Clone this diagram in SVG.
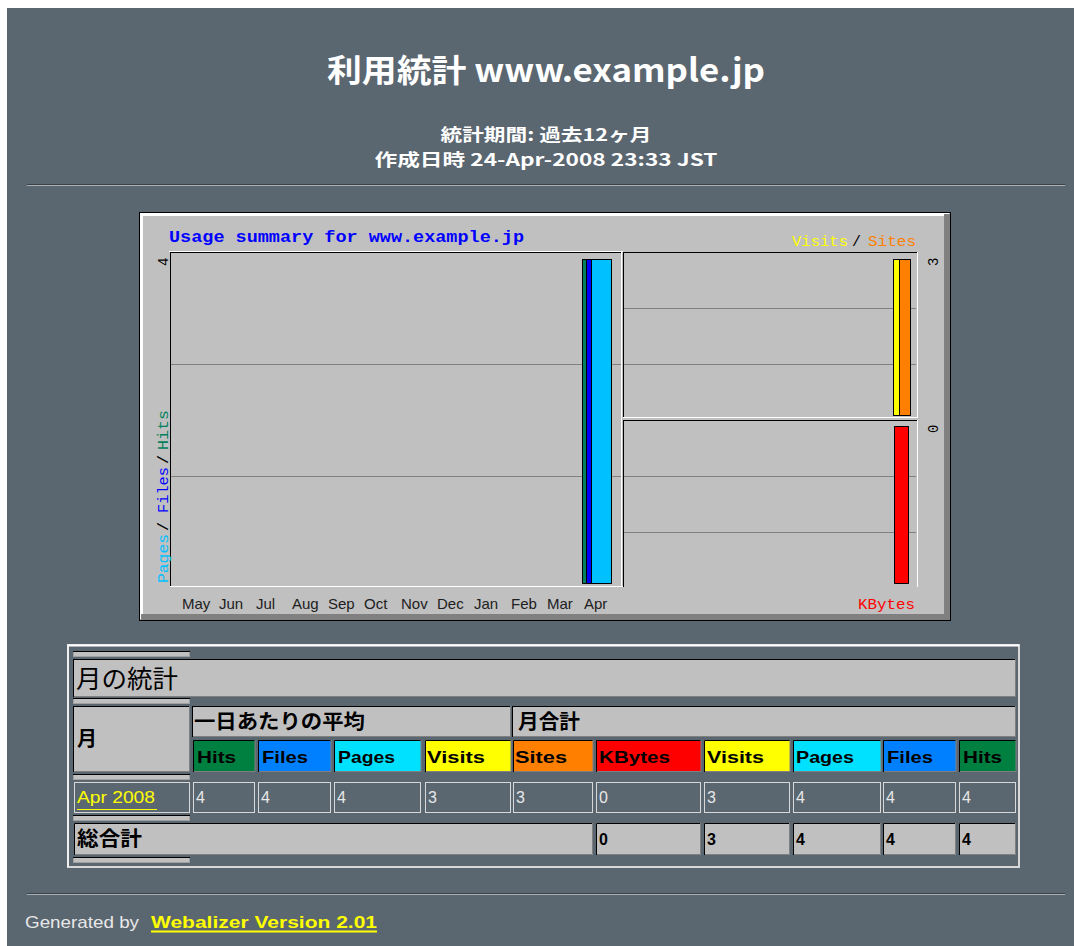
<svg xmlns="http://www.w3.org/2000/svg" width="1074" height="946" viewBox="0 0 1074 946">
<style>
.jp{font-family:"Noto Sans CJK JP","Liberation Sans",sans-serif}
.sans{font-family:"Liberation Sans","DejaVu Sans",sans-serif}
.mono{font-family:"Liberation Mono","DejaVu Sans Mono",monospace}
.w{fill:#ffffff}
.hd{font-family:"Liberation Sans",sans-serif;font-weight:bold;font-size:17px;fill:#000}
.dv{font-family:"Liberation Sans",sans-serif;font-size:16px;fill:#e8e8e8}
.tv{font-family:"Liberation Sans",sans-serif;font-weight:bold;font-size:16px;fill:#000}
.gray{fill:#c0c0c0}
.dk{stroke:#000;stroke-width:1}
.lt{stroke:#e0e0e0;stroke-width:1}
.md{stroke:#808080;stroke-width:1}
.grid{stroke:#808080;stroke-width:1}
.bar{stroke:#000;stroke-width:1}
.mon{font-family:"Liberation Sans",sans-serif;font-size:15px;fill:#202020}
</style>
<rect x="0" y="0" width="1074" height="946" fill="#ffffff"/>
<rect x="7" y="8" width="1067" height="938" fill="#5a6670"/>

<g id="header">
<text class="jp w" x="546" y="82" font-size="32" font-weight="bold" text-anchor="middle" textLength="438" lengthAdjust="spacingAndGlyphs">利用統計 www.example.jp</text>
<text class="jp w" x="546" y="141" font-size="17" font-weight="bold" text-anchor="middle" textLength="211" lengthAdjust="spacingAndGlyphs">統計期間: 過去12ヶ月</text>
<text class="jp w" x="546" y="166" font-size="17" font-weight="bold" text-anchor="middle" textLength="343" lengthAdjust="spacingAndGlyphs">作成日時 24-Apr-2008 23:33 JST</text>
<line x1="27" y1="184.5" x2="1065" y2="184.5" stroke="#3a4248"/>
<line x1="27" y1="185.5" x2="1065" y2="185.5" stroke="#a8b0b8"/>
</g>

<g id="chart">
<rect x="139.5" y="212.5" width="811" height="408" fill="#c0c0c0" stroke="#000"/>
<rect x="140" y="213" width="809" height="3" fill="#ffffff"/>
<rect x="140" y="213" width="3" height="406" fill="#ffffff"/>
<rect x="944" y="214" width="6" height="406" fill="#808080"/>
<rect x="141" y="614" width="809" height="6" fill="#808080"/>
<text class="mono" x="169" y="242" font-size="16" font-weight="bold" fill="#0000ff" textLength="355" lengthAdjust="spacingAndGlyphs">Usage summary for www.example.jp</text>
<text class="mono" x="792" y="246" font-size="15" fill="#ffff00" textLength="56" lengthAdjust="spacingAndGlyphs">Visits</text>
<text class="mono" x="852" y="246" font-size="15" fill="#000" >/</text>
<text class="mono" x="868" y="246" font-size="15" fill="#ff8000" textLength="48" lengthAdjust="spacingAndGlyphs">Sites</text>
<text class="mono" x="858" y="609" font-size="15" fill="#ff0000" textLength="57" lengthAdjust="spacingAndGlyphs">KBytes</text>
<!-- left plot -->
<line x1="169" y1="251.5" x2="623" y2="251.5" stroke="#fff"/>
<line x1="170.5" y1="252" x2="170.5" y2="587" class="dk"/>
<line x1="170" y1="252.5" x2="622" y2="252.5" class="dk"/>
<line x1="170" y1="586.5" x2="623" y2="586.5" stroke="#fff"/>
<line x1="171" y1="364.5" x2="621" y2="364.5" class="grid"/>
<line x1="171" y1="476.5" x2="621" y2="476.5" class="grid"/>
<line x1="621.5" y1="252" x2="621.5" y2="587" stroke="#fff"/>
<!-- right top plot -->
<line x1="623.5" y1="252" x2="623.5" y2="418" class="dk"/>
<line x1="623" y1="252.5" x2="917" y2="252.5" class="dk"/>
<line x1="623" y1="417.5" x2="918" y2="417.5" stroke="#fff"/>
<line x1="917.5" y1="252" x2="917.5" y2="418" stroke="#fff"/>
<line x1="624" y1="308.5" x2="916" y2="308.5" class="grid"/>
<line x1="624" y1="364.5" x2="916" y2="364.5" class="grid"/>
<!-- right bottom plot -->
<line x1="623.5" y1="420" x2="623.5" y2="587" class="dk"/>
<line x1="623" y1="420.5" x2="917" y2="420.5" class="dk"/>
<line x1="917.5" y1="420" x2="917.5" y2="587" stroke="#fff"/>
<line x1="624" y1="476.5" x2="916" y2="476.5" class="grid"/>
<line x1="624" y1="532.5" x2="916" y2="532.5" class="grid"/>
<!-- bars -->
<rect x="582.5" y="259.5" width="9" height="324" fill="#00805c" class="bar"/>
<rect x="586.5" y="259.5" width="25" height="324" fill="#0000ff" class="bar"/>
<rect x="591.5" y="259.5" width="20" height="324" fill="#00c0ff" class="bar"/>
<rect x="893.5" y="259.5" width="17" height="156" fill="#ffff00" class="bar"/>
<rect x="899.5" y="259.5" width="11" height="156" fill="#ff8000" class="bar"/>
<rect x="894.5" y="426.5" width="14" height="157" fill="#ff0000" class="bar"/>
<!-- axis labels -->
<text class="mono" transform="translate(168,266) rotate(-90)" font-size="14" fill="#000">4</text>
<text class="mono" transform="translate(938,266) rotate(-90)" font-size="14" fill="#000">3</text>
<text class="mono" transform="translate(938,433) rotate(-90)" font-size="14" fill="#000">0</text>
<g transform="translate(168,583) rotate(-90)" class="mono" font-size="15">
<text x="0" y="0" fill="#00c0ff" textLength="49" lengthAdjust="spacingAndGlyphs">Pages</text>
<text x="52" y="0" fill="#000">/</text>
<text x="70" y="0" fill="#0000ff" textLength="46" lengthAdjust="spacingAndGlyphs">Files</text>
<text x="119" y="0" fill="#000">/</text>
<text x="133" y="0" fill="#00805c" textLength="40" lengthAdjust="spacingAndGlyphs">Hits</text>
</g>
<text class="mon" x="182" y="609">May</text>
<text class="mon" x="219" y="609">Jun</text>
<text class="mon" x="256" y="609">Jul</text>
<text class="mon" x="292" y="609">Aug</text>
<text class="mon" x="328" y="609">Sep</text>
<text class="mon" x="364" y="609">Oct</text>
<text class="mon" x="401" y="609">Nov</text>
<text class="mon" x="437" y="609">Dec</text>
<text class="mon" x="474" y="609">Jan</text>
<text class="mon" x="511" y="609">Feb</text>
<text class="mon" x="547" y="609">Mar</text>
<text class="mon" x="584" y="609">Apr</text>
</g>

<g id="table">
<rect x="68" y="645" width="951" height="222" fill="none" stroke="#d8d8d8" stroke-width="2"/>
<line x1="67" y1="645.5" x2="1019" y2="645.5" stroke="#fff" stroke-width="2"/>
<line x1="68" y1="645" x2="68" y2="867" stroke="#f0f0f0" stroke-width="2"/>

<g id="seps">
<rect x="73.5" y="651.5" width="116" height="5" class="gray" stroke="#a0a0a0"/><line x1="73" y1="651.5" x2="190" y2="651.5" class="dk"/>
<rect x="73.5" y="698.5" width="116" height="5" class="gray" stroke="#a0a0a0"/><line x1="73" y1="698.5" x2="190" y2="698.5" class="dk"/>
<rect x="73.5" y="774.5" width="116" height="5" class="gray" stroke="#a0a0a0"/><line x1="73" y1="774.5" x2="190" y2="774.5" class="dk"/>
<rect x="73.5" y="815.5" width="116" height="5" class="gray" stroke="#a0a0a0"/><line x1="73" y1="815.5" x2="190" y2="815.5" class="dk"/>
<rect x="73.5" y="857.5" width="116" height="5" class="gray" stroke="#a0a0a0"/><line x1="73" y1="857.5" x2="190" y2="857.5" class="dk"/>
</g>

<g id="title-row">
<rect x="74" y="659" width="942" height="38" class="gray"/>
<line x1="73.5" y1="659" x2="73.5" y2="697" class="dk"/>
<line x1="73" y1="659.5" x2="1016" y2="659.5" class="dk"/>
<line x1="74" y1="696.5" x2="1016" y2="696.5" class="md"/>
<line x1="1015.5" y1="659" x2="1015.5" y2="697" class="md"/>
<text class="jp" x="76" y="688" font-size="25" fill="#000" textLength="102" lengthAdjust="spacingAndGlyphs">月の統計</text>
</g>

<g id="head-month">
<rect x="74" y="706" width="116" height="66" class="gray"/>
<line x1="73.5" y1="706" x2="73.5" y2="772" class="dk"/>
<line x1="73" y1="706.5" x2="190" y2="706.5" class="dk"/>
<line x1="74" y1="771.5" x2="190" y2="771.5" class="md"/>
<line x1="189.5" y1="706" x2="189.5" y2="772" class="md"/>
<text class="jp" x="77" y="746" font-size="20" font-weight="bold" fill="#000">月</text>
</g>
<g id="head-avg">
<rect x="193" y="706" width="318" height="31" class="gray"/>
<line x1="192.5" y1="706" x2="192.5" y2="737" class="dk"/>
<line x1="192" y1="706.5" x2="511" y2="706.5" class="dk"/>
<line x1="193" y1="736.5" x2="511" y2="736.5" class="md"/>
<line x1="510.5" y1="706" x2="510.5" y2="737" class="md"/>
<text class="jp" x="194" y="729" font-size="20" font-weight="bold" fill="#000" textLength="171" lengthAdjust="spacingAndGlyphs">一日あたりの平均</text>
</g>
<g id="head-total">
<rect x="513" y="706" width="503" height="31" class="gray"/>
<line x1="512.5" y1="706" x2="512.5" y2="737" class="dk"/>
<line x1="512" y1="706.5" x2="1016" y2="706.5" class="dk"/>
<line x1="513" y1="736.5" x2="1016" y2="736.5" class="md"/>
<line x1="1015.5" y1="706" x2="1015.5" y2="737" class="md"/>
<text class="jp" x="518" y="729" font-size="20" font-weight="bold" fill="#000" textLength="62" lengthAdjust="spacingAndGlyphs">月合計</text>
</g>

<g id="col-heads">
<rect x="193" y="740" width="62" height="32" fill="#008040"/>
<rect x="258" y="740" width="73" height="32" fill="#0080ff"/>
<rect x="334" y="740" width="87" height="32" fill="#00e0ff"/>
<rect x="425" y="740" width="86" height="32" fill="#ffff00"/>
<rect x="513" y="740" width="80" height="32" fill="#ff8000"/>
<rect x="596" y="740" width="105" height="32" fill="#ff0000"/>
<rect x="704" y="740" width="86" height="32" fill="#ffff00"/>
<rect x="793" y="740" width="88" height="32" fill="#00e0ff"/>
<rect x="883" y="740" width="73" height="32" fill="#0080ff"/>
<rect x="959" y="740" width="57" height="32" fill="#008040"/>
<path d="M193.5,772V740.5H255 M258.5,772V740.5H331 M334.5,772V740.5H421 M425.5,772V740.5H511 M513.5,772V740.5H593 M596.5,772V740.5H701 M704.5,772V740.5H790 M793.5,772V740.5H881 M883.5,772V740.5H956 M959.5,772V740.5H1016" fill="none" stroke="#000"/>
<path d="M194,771.5H255V740 M259,771.5H331V740 M335,771.5H421V740 M426,771.5H511V740 M514,771.5H593V740 M597,771.5H701V740 M705,771.5H790V740 M794,771.5H881V740 M884,771.5H956V740 M960,771.5H1016V740" fill="none" stroke="#808080"/>
<text class="hd" x="197" y="763" textLength="39" lengthAdjust="spacingAndGlyphs">Hits</text>
<text class="hd" x="262" y="763" textLength="46" lengthAdjust="spacingAndGlyphs">Files</text>
<text class="hd" x="338" y="763" textLength="57" lengthAdjust="spacingAndGlyphs">Pages</text>
<text class="hd" x="427" y="763" textLength="58" lengthAdjust="spacingAndGlyphs">Visits</text>
<text class="hd" x="515" y="763" textLength="52" lengthAdjust="spacingAndGlyphs">Sites</text>
<text class="hd" x="599" y="763" textLength="71" lengthAdjust="spacingAndGlyphs">KBytes</text>
<text class="hd" x="707" y="763" textLength="57" lengthAdjust="spacingAndGlyphs">Visits</text>
<text class="hd" x="796" y="763" textLength="58" lengthAdjust="spacingAndGlyphs">Pages</text>
<text class="hd" x="887" y="763" textLength="46" lengthAdjust="spacingAndGlyphs">Files</text>
<text class="hd" x="963" y="763" textLength="39" lengthAdjust="spacingAndGlyphs">Hits</text>
</g>

<g id="data-row">
<g fill="none" stroke="#d8d8d8">
<rect x="74.5" y="782.5" width="115" height="30"/>
<rect x="193.5" y="782.5" width="61" height="30"/>
<rect x="258.5" y="782.5" width="72" height="30"/>
<rect x="334.5" y="782.5" width="86" height="30"/>
<rect x="425.5" y="782.5" width="85" height="30"/>
<rect x="513.5" y="782.5" width="79" height="30"/>
<rect x="596.5" y="782.5" width="104" height="30"/>
<rect x="704.5" y="782.5" width="85" height="30"/>
<rect x="793.5" y="782.5" width="87" height="30"/>
<rect x="883.5" y="782.5" width="72" height="30"/>
<rect x="959.5" y="782.5" width="56" height="30"/>
</g>
<text class="sans" x="77" y="803" font-size="16" fill="#ffff00" textLength="78" lengthAdjust="spacingAndGlyphs">Apr 2008</text>
<line x1="77" y1="809.5" x2="157" y2="809.5" stroke="#ffff00"/>
<text class="dv" x="196" y="803">4</text>
<text class="dv" x="261" y="803">4</text>
<text class="dv" x="337" y="803">4</text>
<text class="dv" x="428" y="803">3</text>
<text class="dv" x="516" y="803">3</text>
<text class="dv" x="599" y="803">0</text>
<text class="dv" x="707" y="803">3</text>
<text class="dv" x="796" y="803">4</text>
<text class="dv" x="886" y="803">4</text>
<text class="dv" x="962" y="803">4</text>
</g>

<g id="total-row">
<rect x="74" y="823" width="519" height="32" class="gray"/>
<rect x="596" y="823" width="105" height="32" class="gray"/>
<rect x="704" y="823" width="86" height="32" class="gray"/>
<rect x="793" y="823" width="88" height="32" class="gray"/>
<rect x="883" y="823" width="73" height="32" class="gray"/>
<rect x="959" y="823" width="57" height="32" class="gray"/>
<path d="M74.5,855V823.5H593 M596.5,855V823.5H701 M704.5,855V823.5H790 M793.5,855V823.5H881 M883.5,855V823.5H956 M959.5,855V823.5H1016" fill="none" stroke="#000"/>
<path d="M75,854.5H592.5V823 M597,854.5H700.5V823 M705,854.5H789.5V823 M794,854.5H880.5V823 M884,854.5H955.5V823 M960,854.5H1015.5V823" fill="none" stroke="#808080"/>
<text class="jp" x="77" y="846" font-size="20" font-weight="bold" fill="#000" textLength="65" lengthAdjust="spacingAndGlyphs">総合計</text>
<text class="tv" x="599" y="845">0</text>
<text class="tv" x="707" y="845">3</text>
<text class="tv" x="796" y="845">4</text>
<text class="tv" x="886" y="845">4</text>
<text class="tv" x="962" y="845">4</text>
</g>
</g>

<g id="footer">
<line x1="27" y1="893.5" x2="1065" y2="893.5" stroke="#3a4248"/>
<line x1="27" y1="894.5" x2="1065" y2="894.5" stroke="#a8b0b8"/>
<text class="sans" x="25" y="928" font-size="17" fill="#e8e8e8" textLength="114" lengthAdjust="spacingAndGlyphs">Generated by</text>
<text class="sans" x="151" y="928" font-size="17" font-weight="bold" fill="#ffff00" textLength="226" lengthAdjust="spacingAndGlyphs">Webalizer Version 2.01</text>
<line x1="151" y1="931.5" x2="377" y2="931.5" stroke="#ffff00" stroke-width="2"/>
</g>
</svg>
